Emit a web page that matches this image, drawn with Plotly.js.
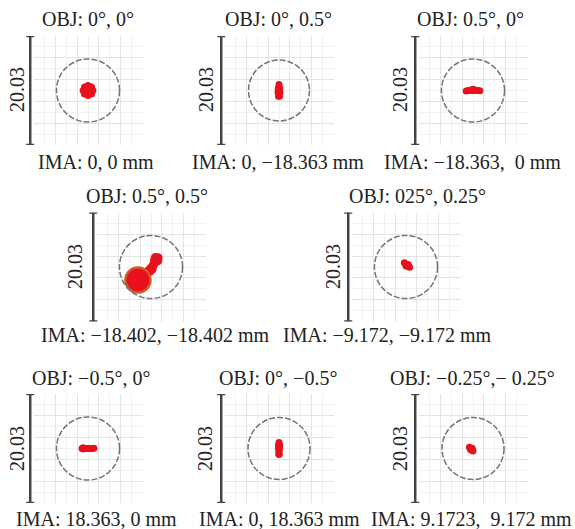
<!DOCTYPE html>
<html><head><meta charset="utf-8">
<script src="https://cdn.plot.ly/plotly-3.0.1.min.js"></script>
<style>html,body{margin:0;padding:0;background:#fff;}#chart{width:575px;height:529px;}</style>
</head><body><div id="chart"></div>
<script>
// ---------------- DATA ----------------
const objLabels = ["OBJ: 0°, 0°", "OBJ: 0°, 0.5°", "OBJ: 0.5°, 0°", "OBJ: 0.5°, 0.5°",
  "OBJ: 025°, 0.25°", "OBJ: −0.5°, 0°", "OBJ: 0°, −0.5°", "OBJ: −0.25°,− 0.25°"];
const imaLabels = ["IMA: 0, 0 mm", "IMA: 0, −18.363 mm", "IMA: −18.363,\u00a0 0 mm",
  "IMA: −18.402, −18.402 mm", "IMA: −9.172, −9.172 mm", "IMA: 18.363, 0 mm",
  "IMA: 0, 18.363 mm", "IMA: 9.1723,\u00a0 9.172 mm"];
const scaleBar = 20.03;          // µm, full box size
const scaleLabel = "20.03";
const airyRadius = [5.8, 5.6, 5.8, 5.8, 5.8, 5.8, 5.7, 5.7];   // µm

// ray intercepts (µm)
const spot1X = [0, 0.9, -0.9, 0, 0, 0.64, -0.64, 0.64, -0.64];
const spot1Y = [0, 0, 0, 0.9, -0.9, 0.64, 0.64, -0.64, -0.64];
const spot2X = [0, 0, -0.15, 0.15, -0.18, 0.18, 0, -0.1, 0.1];
const spot2Y = [1.1, 0.7, 0.3, 0.3, -0.3, -0.3, -0.8, -1.05, -1.05];
const spot3X = [-1.25, -0.85, -0.45, 0, 0.45, 0.85, 1.25, 0.1, -0.2];
const spot3Y = [-0.1, 0, 0, 0, 0, 0, -0.05, 0.25, 0.2];
const spot4HeadX = [-2.4];
const spot4HeadY = [-2.4];
const spot4InnerX = [-2.85];
const spot4InnerY = [-2.85];
const spot4TailX = [-1.5, -1.0, -0.6, -0.3, 0.0, 0.3, 0.55, 0.8, 1.05, 1.3, 0.65, 1.25, 0.8, -0.9, -1.6, -0.2, 0.2];
const spot4TailY = [-1.3, -1.2, -0.9, -0.55, -0.25, 0.15, 0.6, 1.0, 1.35, 1.7, 1.2, 1.15, 1.75, -1.6, -1.8, -0.8, -0.4];
const spot5X = [-0.3, -0.05, 0.2, 0.45, 0.65, 0.0, 0.4, 0.25];
const spot5Y = [0.8, 0.55, 0.3, 0.1, -0.05, 0.2, 0.45, 0.35];
const spot6X = [-1.1, -0.75, -0.35, 0.0, 0.4, 0.75, 1.1, -0.9, -0.9];
const spot6Y = [0, 0, 0, 0, 0, 0, 0.05, 0.12, -0.1];
const spot7X = [0, -0.1, 0.1, -0.1, 0.1, 0, -0.05, 0.05];
const spot7Y = [1.1, 0.6, 0.6, 0, 0, -0.5, -1.05, -1.05];
const spot8X = [-0.65, -0.45, -0.3, -0.1, 0.0, -0.45, -0.15, -0.2];
const spot8Y = [0.25, 0.05, -0.1, -0.3, -0.45, -0.2, 0.05, -0.3];

// ---------------- LAYOUT / STYLE ----------------
const W = 575, H = 529, BOX = 109;
const panelCenters = [[88, 90.5], [279, 90.5], [473, 90.5], [151, 267], [406, 267],
  [88, 448.5], [279, 448.5], [473, 448.5]];
const titlePos = [[88, 19], [278, 19], [470, 19], [147, 196], [417, 196], [91, 378], [278, 378], [472, 378]];
const imaPos = [[96, 162], [278, 162], [472, 162], [155, 335], [387, 335], [96, 519], [279, 519], [471, 519]];
const barLabelPos = [[17, 90], [206, 90], [400, 90], [75, 267], [333, 267], [17, 449], [205, 449], [400, 449]];

const RED = '#e8101c', ORANGE = '#cf5a28';
const FONT = '"Liberation Serif", "Times New Roman", Times, serif';
const px = v => v / W, py = v => 1 - v / H;

const dot = (x, y, extra) => Object.assign({x, y, c: RED, s: 7}, extra || {});
const spots = [
  [dot(spot1X, spot1Y)],
  [dot(spot2X, spot2Y)],
  [dot(spot3X, spot3Y)],
  [dot(spot4TailX, spot4TailY, {s: 9}),
   dot(spot4HeadX, spot4HeadY, {s: 25, line: {color: ORANGE, width: 2.5}}),
   dot(spot4InnerX, spot4InnerY, {s: 13, sym: 'circle-open', line: {color: ORANGE, width: 1.5}})],
  [dot(spot5X, spot5Y)],
  [dot(spot6X, spot6Y)],
  [dot(spot7X, spot7Y)],
  [dot(spot8X, spot8Y)],
];

const half = scaleBar / 2;
const data = [];
const layout = {
  width: W, height: H, margin: {l: 0, r: 0, t: 0, b: 0},
  paper_bgcolor: '#fff', plot_bgcolor: '#fff', showlegend: false,
  font: {family: FONT},
  shapes: [], annotations: []
};

for (let i = 0; i < 8; i++) {
  const n = i + 1;
  const xa = n === 1 ? 'x' : 'x' + n, ya = n === 1 ? 'y' : 'y' + n;
  const xk = n === 1 ? 'xaxis' : 'xaxis' + n, yk = n === 1 ? 'yaxis' : 'yaxis' + n;
  const [cx, cy] = panelCenters[i];
  const axCommon = {
    range: [-half, half], fixedrange: true, showline: false, zeroline: false,
    showticklabels: false, ticks: '', tick0: scaleBar / 10, dtick: scaleBar / 5,
    showgrid: true, gridcolor: '#e4e4e4', gridwidth: 1,
    minor: {tick0: 0, dtick: scaleBar / 10, showgrid: true, gridcolor: '#f1f1f1', gridwidth: 1}
  };
  layout[xk] = Object.assign({}, axCommon, {domain: [px(cx - BOX / 2), px(cx + BOX / 2)], anchor: ya});
  layout[yk] = Object.assign({}, axCommon, {domain: [py(cy + BOX / 2), py(cy - BOX / 2)], anchor: xa});

  spots[i].forEach(s => data.push({
    type: 'scatter', mode: 'markers', x: s.x, y: s.y, xaxis: xa, yaxis: ya,
    marker: {size: s.s, color: s.c, symbol: s.sym || 'circle', line: s.line || {width: 0}},
    hoverinfo: 'skip'
  }));

  const r = airyRadius[i];
  layout.shapes.push({type: 'circle', xref: xa, yref: ya, x0: -r, x1: r, y0: -r, y1: r,
    line: {color: '#747474', width: 1.5, dash: '6px,2px'}});
  const bx = -0.03;
  layout.shapes.push({type: 'line', xref: xa + ' domain', yref: ya, x0: bx, x1: bx, y0: -half, y1: half,
    line: {color: '#444', width: 2.5}});
  [-half, half].forEach(yy => layout.shapes.push({type: 'line', xref: xa + ' domain', yref: ya,
    x0: bx - 0.037, x1: bx + 0.037, y0: yy, y1: yy, line: {color: '#444', width: 2.5}}));

  const tf = {family: FONT, size: 20, color: '#222'};
  layout.annotations.push({text: objLabels[i], xref: 'paper', yref: 'paper',
    x: px(titlePos[i][0]), y: py(titlePos[i][1]), xanchor: 'center', yanchor: 'middle',
    showarrow: false, font: tf});
  layout.annotations.push({text: imaLabels[i], xref: 'paper', yref: 'paper',
    x: px(imaPos[i][0]), y: py(imaPos[i][1]), xanchor: 'center', yanchor: 'middle',
    showarrow: false, font: tf});
  layout.annotations.push({text: scaleLabel, xref: 'paper', yref: 'paper', textangle: -90,
    x: px(barLabelPos[i][0]), y: py(barLabelPos[i][1]), xanchor: 'center', yanchor: 'middle',
    showarrow: false, font: tf});
}

Plotly.newPlot('chart', data, layout, {displayModeBar: false, staticPlot: true});
</script></body></html>
